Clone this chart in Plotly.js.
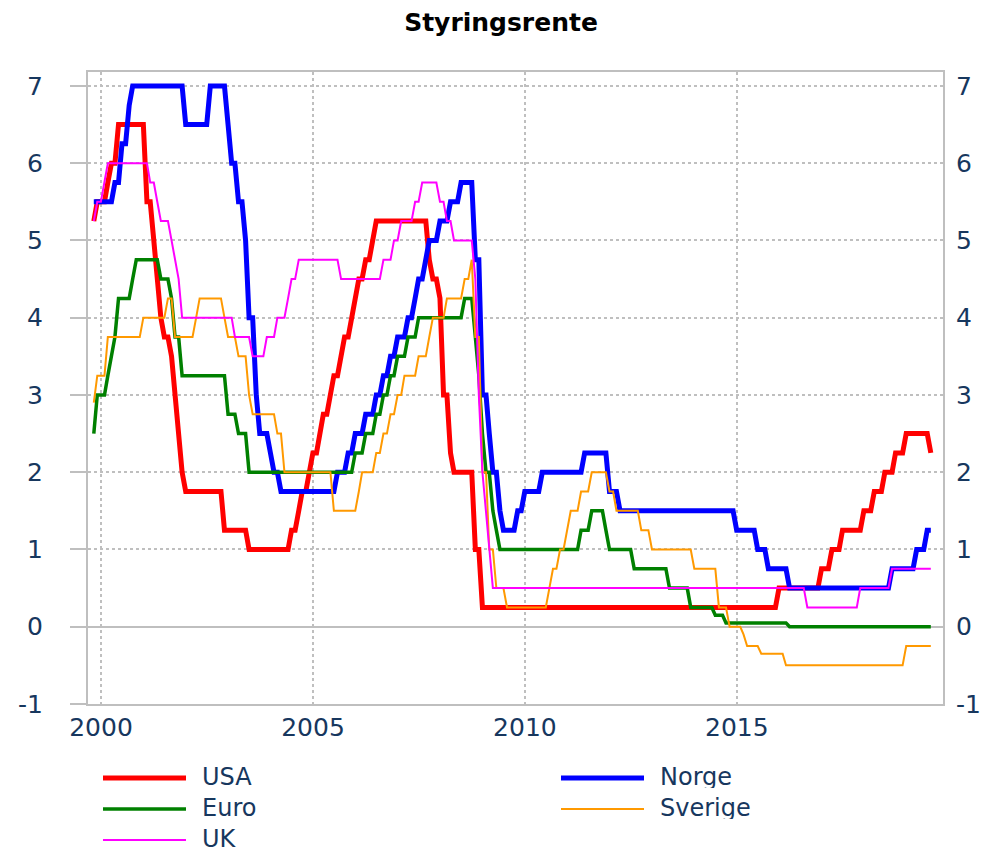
<!DOCTYPE html>
<html>
<head>
<meta charset="utf-8">
<script src="https://cdn.plot.ly/plotly-3.0.1.min.js"></script>
<style>html,body{margin:0;padding:0;background:#fff}#chart{width:984px;height:852px}</style>
</head>
<body>
<div id="chart"></div>
<script>
// Monthly policy rates, end of month, from Oct 1999 to Jul 2019
var firstYear = 1999, firstMonth = 10; // October 1999

var seriesNames = ['USA', 'Norge', 'Euro', 'Sverige', 'UK'];

var usa = [
  5.25,5.5,5.5,
  5.5,5.75,6,6,6.5,6.5,6.5,6.5,6.5,6.5,6.5,6.5,
  5.5,5.5,5,4.5,4,3.75,3.75,3.5,3,2.5,2,1.75,
  1.75,1.75,1.75,1.75,1.75,1.75,1.75,1.75,1.75,1.75,1.25,1.25,
  1.25,1.25,1.25,1.25,1.25,1,1,1,1,1,1,1,
  1,1,1,1,1,1.25,1.25,1.5,1.75,1.75,2,2.25,
  2.25,2.5,2.75,2.75,3,3.25,3.25,3.5,3.75,3.75,4,4.25,
  4.5,4.5,4.75,4.75,5,5.25,5.25,5.25,5.25,5.25,5.25,5.25,
  5.25,5.25,5.25,5.25,5.25,5.25,5.25,5.25,4.75,4.5,4.5,4.25,
  3,3,2.25,2,2,2,2,2,2,1,1,0.25,
  0.25,0.25,0.25,0.25,0.25,0.25,0.25,0.25,0.25,0.25,0.25,0.25,
  0.25,0.25,0.25,0.25,0.25,0.25,0.25,0.25,0.25,0.25,0.25,0.25,
  0.25,0.25,0.25,0.25,0.25,0.25,0.25,0.25,0.25,0.25,0.25,0.25,
  0.25,0.25,0.25,0.25,0.25,0.25,0.25,0.25,0.25,0.25,0.25,0.25,
  0.25,0.25,0.25,0.25,0.25,0.25,0.25,0.25,0.25,0.25,0.25,0.25,
  0.25,0.25,0.25,0.25,0.25,0.25,0.25,0.25,0.25,0.25,0.25,0.25,
  0.25,0.25,0.25,0.25,0.25,0.25,0.25,0.25,0.25,0.25,0.25,0.5,
  0.5,0.5,0.5,0.5,0.5,0.5,0.5,0.5,0.5,0.5,0.5,0.75,
  0.75,0.75,1,1,1,1.25,1.25,1.25,1.25,1.25,1.25,1.5,
  1.5,1.5,1.75,1.75,1.75,2,2,2,2.25,2.25,2.25,2.5,
  2.5,2.5,2.5,2.5,2.5,2.5,2.25
];

var norge = [
  5.5,5.5,5.5,
  5.5,5.5,5.5,5.75,5.75,6.25,6.25,6.75,7,7,7,7,
  7,7,7,7,7,7,7,7,7,7,7,6.5,
  6.5,6.5,6.5,6.5,6.5,6.5,7,7,7,7,7,6.5,
  6,6,5.5,5.5,5,4,4,3,2.5,2.5,2.5,2.25,
  2,2,1.75,1.75,1.75,1.75,1.75,1.75,1.75,1.75,1.75,1.75,
  1.75,1.75,1.75,1.75,1.75,1.75,2,2,2,2.25,2.25,2.5,
  2.5,2.5,2.75,2.75,2.75,3,3,3.25,3.25,3.5,3.5,3.75,
  3.75,3.75,4,4,4.25,4.5,4.5,4.75,5,5,5,5.25,
  5.25,5.25,5.5,5.5,5.5,5.75,5.75,5.75,5.75,4.75,4.75,3,
  3,2.5,2,2,1.5,1.25,1.25,1.25,1.25,1.5,1.5,1.75,
  1.75,1.75,1.75,1.75,2,2,2,2,2,2,2,2,
  2,2,2,2,2.25,2.25,2.25,2.25,2.25,2.25,2.25,1.75,
  1.75,1.75,1.5,1.5,1.5,1.5,1.5,1.5,1.5,1.5,1.5,1.5,
  1.5,1.5,1.5,1.5,1.5,1.5,1.5,1.5,1.5,1.5,1.5,1.5,
  1.5,1.5,1.5,1.5,1.5,1.5,1.5,1.5,1.5,1.5,1.5,1.25,
  1.25,1.25,1.25,1.25,1.25,1,1,1,0.75,0.75,0.75,0.75,
  0.75,0.75,0.5,0.5,0.5,0.5,0.5,0.5,0.5,0.5,0.5,0.5,
  0.5,0.5,0.5,0.5,0.5,0.5,0.5,0.5,0.5,0.5,0.5,0.5,
  0.5,0.5,0.5,0.5,0.5,0.5,0.5,0.75,0.75,0.75,0.75,0.75,
  0.75,0.75,1,1,1,1.25,1.25
];

var euro = [
  2.5,3,3,
  3,3.25,3.5,3.75,4.25,4.25,4.25,4.25,4.5,4.75,4.75,4.75,
  4.75,4.75,4.75,4.75,4.5,4.5,4.5,4.25,3.75,3.75,3.25,3.25,
  3.25,3.25,3.25,3.25,3.25,3.25,3.25,3.25,3.25,3.25,3.25,2.75,
  2.75,2.75,2.5,2.5,2.5,2,2,2,2,2,2,2,
  2,2,2,2,2,2,2,2,2,2,2,2,
  2,2,2,2,2,2,2,2,2,2,2,2.25,
  2.25,2.25,2.5,2.5,2.5,2.75,2.75,3,3,3.25,3.25,3.5,
  3.5,3.5,3.75,3.75,3.75,4,4,4,4,4,4,4,
  4,4,4,4,4,4,4.25,4.25,4.25,3.75,3.25,2.5,
  2,2,1.5,1.25,1,1,1,1,1,1,1,1,
  1,1,1,1,1,1,1,1,1,1,1,1,
  1,1,1,1.25,1.25,1.25,1.5,1.5,1.5,1.5,1.25,1,
  1,1,1,1,1,1,0.75,0.75,0.75,0.75,0.75,0.75,
  0.75,0.75,0.75,0.75,0.5,0.5,0.5,0.5,0.5,0.5,0.25,0.25,
  0.25,0.25,0.25,0.25,0.25,0.15,0.15,0.15,0.05,0.05,0.05,0.05,
  0.05,0.05,0.05,0.05,0.05,0.05,0.05,0.05,0.05,0.05,0.05,0.05,
  0.05,0.05,0,0,0,0,0,0,0,0,0,0,
  0,0,0,0,0,0,0,0,0,0,0,0,
  0,0,0,0,0,0,0,0,0,0,0,0,
  0,0,0,0,0,0,0
];

var sverige = [
  2.9,3.25,3.25,
  3.25,3.75,3.75,3.75,3.75,3.75,3.75,3.75,3.75,3.75,3.75,4,
  4,4,4,4,4,4,4.25,4.25,3.75,3.75,3.75,3.75,
  3.75,3.75,4,4.25,4.25,4.25,4.25,4.25,4.25,4.25,4,3.75,
  3.75,3.75,3.5,3.5,3.5,3,2.75,2.75,2.75,2.75,2.75,2.75,
  2.75,2.5,2.5,2,2,2,2,2,2,2,2,2,
  2,2,2,2,2,1.5,1.5,1.5,1.5,1.5,1.5,1.5,
  1.75,2,2,2,2,2.25,2.25,2.5,2.5,2.75,2.75,3,
  3,3.25,3.25,3.25,3.25,3.5,3.5,3.5,3.75,4,4,4,
  4,4.25,4.25,4.25,4.25,4.25,4.5,4.5,4.75,3.75,3.75,2,
  2,1,1,0.5,0.5,0.5,0.25,0.25,0.25,0.25,0.25,0.25,
  0.25,0.25,0.25,0.25,0.25,0.25,0.5,0.75,0.75,1,1,1.25,
  1.5,1.5,1.5,1.75,1.75,1.75,2,2,2,2,2,1.75,
  1.75,1.5,1.5,1.5,1.5,1.5,1.5,1.5,1.25,1.25,1.25,1,
  1,1,1,1,1,1,1,1,1,1,1,0.75,
  0.75,0.75,0.75,0.75,0.75,0.75,0.25,0.25,0.25,0,0,0,
  0,-0.1,-0.25,-0.25,-0.25,-0.25,-0.35,-0.35,-0.35,-0.35,-0.35,-0.35,
  -0.35,-0.5,-0.5,-0.5,-0.5,-0.5,-0.5,-0.5,-0.5,-0.5,-0.5,-0.5,
  -0.5,-0.5,-0.5,-0.5,-0.5,-0.5,-0.5,-0.5,-0.5,-0.5,-0.5,-0.5,
  -0.5,-0.5,-0.5,-0.5,-0.5,-0.5,-0.5,-0.5,-0.5,-0.5,-0.5,-0.25,
  -0.25,-0.25,-0.25,-0.25,-0.25,-0.25,-0.25
];

var uk = [
  5.25,5.5,5.5,
  5.75,6,6,6,6,6,6,6,6,6,6,6,
  6,5.75,5.75,5.5,5.25,5.25,5.25,5,4.75,4.5,4,4,
  4,4,4,4,4,4,4,4,4,4,4,4,
  4,3.75,3.75,3.75,3.75,3.75,3.5,3.5,3.5,3.5,3.75,3.75,
  3.75,4,4,4,4.25,4.5,4.5,4.75,4.75,4.75,4.75,4.75,
  4.75,4.75,4.75,4.75,4.75,4.75,4.75,4.5,4.5,4.5,4.5,4.5,
  4.5,4.5,4.5,4.5,4.5,4.5,4.5,4.75,4.75,4.75,5,5,
  5.25,5.25,5.25,5.25,5.5,5.5,5.75,5.75,5.75,5.75,5.75,5.5,
  5.5,5.25,5.25,5,5,5,5,5,5,4.5,3,2,
  1.5,1,0.5,0.5,0.5,0.5,0.5,0.5,0.5,0.5,0.5,0.5,
  0.5,0.5,0.5,0.5,0.5,0.5,0.5,0.5,0.5,0.5,0.5,0.5,
  0.5,0.5,0.5,0.5,0.5,0.5,0.5,0.5,0.5,0.5,0.5,0.5,
  0.5,0.5,0.5,0.5,0.5,0.5,0.5,0.5,0.5,0.5,0.5,0.5,
  0.5,0.5,0.5,0.5,0.5,0.5,0.5,0.5,0.5,0.5,0.5,0.5,
  0.5,0.5,0.5,0.5,0.5,0.5,0.5,0.5,0.5,0.5,0.5,0.5,
  0.5,0.5,0.5,0.5,0.5,0.5,0.5,0.5,0.5,0.5,0.5,0.5,
  0.5,0.5,0.5,0.5,0.5,0.5,0.5,0.25,0.25,0.25,0.25,0.25,
  0.25,0.25,0.25,0.25,0.25,0.25,0.25,0.25,0.25,0.25,0.5,0.5,
  0.5,0.5,0.5,0.5,0.5,0.5,0.5,0.75,0.75,0.75,0.75,0.75,
  0.75,0.75,0.75,0.75,0.75,0.75,0.75
];

var yearTicks = ['2000', '2005', '2010', '2015'];
var yTicks = [-1, 0, 1, 2, 3, 4, 5, 6, 7];

// month-end dates for the series
function monthEnds(n) {
  var out = [];
  for (var i = 0; i < n; i++) {
    var m0 = firstMonth - 1 + i;
    var y = firstYear + Math.floor(m0 / 12);
    var m = m0 % 12;
    var d = new Date(Date.UTC(y, m + 1, 0));
    out.push(d.toISOString().slice(0, 10));
  }
  return out;
}

var dataSets = [usa, norge, euro, sverige, uk];
var colors = ['#FF0000', '#0000FF', '#008000', '#FF9900', '#FF00FF'];
var widths = [5, 5, 3.5, 2, 2];
var lens = dataSets.map(function (a) { return a.length; });

var traces = dataSets.map(function (vals, i) {
  return {
    type: 'scatter', mode: 'lines', name: seriesNames[i],
    x: monthEnds(vals.length), y: vals,
    line: {color: colors[i], width: widths[i], shape: 'linear'},
    showlegend: false, hoverinfo: 'x+y+name'
  };
});
// invisible trace so the right-hand axis exists
traces.push({type: 'scatter', mode: 'lines', x: monthEnds(uk.length), y: uk, yaxis: 'y2',
  line: {width: 0, color: 'rgba(0,0,0,0)'}, showlegend: false, hoverinfo: 'skip'});

var navy = '#17375E';
var fam = 'DejaVu Sans, Verdana, sans-serif';
var grey = '#BFBFBF';

// manual two-column legend
var legendCols = [0, 1, 0, 1, 0];
var legendRows = [0, 0, 1, 1, 2];
var shapes = [], annotations = [];
var plotW = 855, plotH = 632;
seriesNames.forEach(function (nm, i) {
  var x0 = legendCols[i] === 0 ? 103 : 561;
  var py = 778 + legendRows[i] * 31;
  shapes.push({type: 'line', xref: 'paper', yref: 'paper',
    x0: (x0 - 88) / plotW, x1: (x0 + 83 - 88) / plotW,
    y0: (704 - py) / plotH, y1: (704 - py) / plotH,
    line: {color: colors[i], width: widths[i]}});
  annotations.push({xref: 'paper', yref: 'paper', x: (x0 + 97 - 88) / plotW, y: (704 - py + 1) / plotH,
    xanchor: 'left', yanchor: 'middle', text: nm, showarrow: false, height: 22,
    font: {family: fam, size: 24, color: navy}});
});

var titleText = 'Styringsrente';
if (lens.some(function (l) { return l !== lens[0]; })) titleText += ' ' + lens.join(',');

var layout = {
  width: 984, height: 852,
  margin: {l: 88, r: 41, t: 72, b: 148},
  paper_bgcolor: '#FFFFFF', plot_bgcolor: '#FFFFFF',
  font: {family: fam, color: navy},
  title: {text: titleText, x: (501 - 88) / 855, xref: 'paper', xanchor: 'center',
    y: 1 - 22 / 852, yref: 'container', yanchor: 'middle',
    font: {family: fam, size: 25, color: '#000000', weight: 'bold'}},
  xaxis: {type: 'date', range: ['1999-09-11', '2019-11-13'],
    tickvals: yearTicks.map(function (y) { return y + '-01-01'; }), ticktext: yearTicks,
    showgrid: true, gridcolor: grey, griddash: 'dot', gridwidth: 2,
    showline: true, linecolor: grey, linewidth: 2, mirror: true,
    ticks: '', zeroline: false,
    tickfont: {family: fam, size: 25, color: navy}},
  yaxis: {range: [-1, 7.18], tickvals: yTicks, ticktext: yTicks.map(String),
    showgrid: true, gridcolor: grey, griddash: 'dot', gridwidth: 2,
    zeroline: true, zerolinecolor: grey, zerolinewidth: 2,
    showline: true, linecolor: grey, linewidth: 2, mirror: true,
    ticks: 'outside', ticklen: 16, tickwidth: 2, tickcolor: grey,
    ticklabelstandoff: 22,
    tickfont: {family: fam, size: 25, color: navy}},
  yaxis2: {range: [-1, 7.18], tickvals: yTicks, ticktext: yTicks.map(String),
    overlaying: 'y', side: 'right', showgrid: false, zeroline: false, showline: false,
    ticks: '', ticklabelstandoff: 12,
    tickfont: {family: fam, size: 25, color: navy}},
  shapes: shapes,
  annotations: annotations,
  showlegend: false
};

Plotly.newPlot('chart', traces, layout, {displayModeBar: false, staticPlot: true});
</script>
</body>
</html>
